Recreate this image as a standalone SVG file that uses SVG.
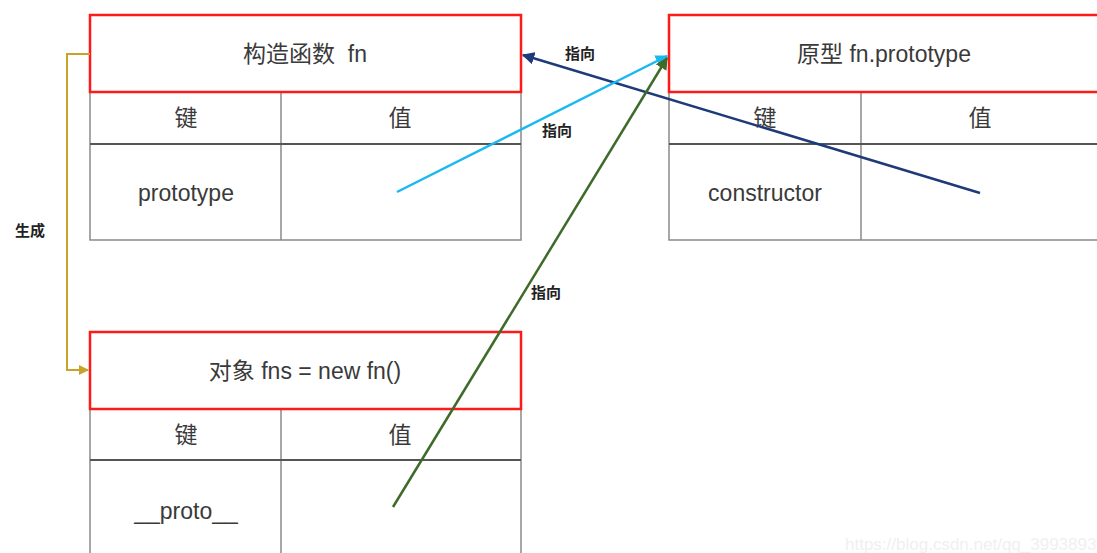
<svg xmlns="http://www.w3.org/2000/svg" width="1097" height="553" viewBox="0 0 1097 553">
<style>
.hdr{fill:#fff;stroke:#ff1a1a;stroke-width:2.5}
.cell{fill:#fff;stroke:#8a8a8a;stroke-width:1.5}
.sep{stroke:#555;stroke-width:2}
.t{font-family:"Liberation Sans","Noto Sans CJK SC",sans-serif;font-size:23px;fill:#3a3a3a;text-anchor:middle;dominant-baseline:central;white-space:pre}
.lbl{font-family:"Liberation Sans","Noto Sans CJK SC",sans-serif;font-size:15px;font-weight:bold;fill:#222;text-anchor:middle;dominant-baseline:central}
.wm{font-family:"Liberation Sans",sans-serif;font-size:17px;fill:#f0f0f0}
</style>
<defs>
<marker id="aNavy" viewBox="0 0 10 10" refX="9" refY="5" markerWidth="5" markerHeight="5" orient="auto"><path d="M0,0 L10,5 L0,10 z" fill="#1f3a78"/></marker>
<marker id="aBlue" viewBox="0 0 10 10" refX="9" refY="5" markerWidth="5" markerHeight="5" orient="auto"><path d="M0,0 L10,5 L0,10 z" fill="#1ab8f0"/></marker>
<marker id="aGreen" viewBox="0 0 10 10" refX="9" refY="5" markerWidth="5" markerHeight="5" orient="auto"><path d="M0,0 L10,5 L0,10 z" fill="#3f6b2a"/></marker>
<marker id="aGold" viewBox="0 0 10 10" refX="9" refY="5" markerWidth="5" markerHeight="5" orient="auto"><path d="M0,0 L10,5 L0,10 z" fill="#c9a227"/></marker>
</defs>
<g id="node-fn">
<rect class="cell" x="90" y="92" width="431" height="148"/>
<line class="cell" x1="281" y1="92" x2="281" y2="240"/>
<line class="sep" x1="90" y1="144" x2="521" y2="144"/>
<rect class="hdr" x="90" y="15" width="431" height="77"/>
<text class="t" x="305" y="54" xml:space="preserve">构造函数  fn</text>
<text class="t" x="186" y="118">键</text>
<text class="t" x="400" y="118">值</text>
<text class="t" x="186" y="193">prototype</text>
</g>
<g id="node-prototype">
<rect class="cell" x="669" y="92" width="440" height="148"/>
<line class="cell" x1="861" y1="92" x2="861" y2="240"/>
<line class="sep" x1="669" y1="144" x2="1097" y2="144"/>
<rect class="hdr" x="669" y="15" width="440" height="77"/>
<text class="t" x="884" y="54">原型 fn.prototype</text>
<text class="t" x="765" y="118">键</text>
<text class="t" x="980" y="118">值</text>
<text class="t" x="765" y="193">constructor</text>
</g>
<g id="node-fns">
<rect class="cell" x="90" y="409" width="431" height="160"/>
<line class="cell" x1="281" y1="409" x2="281" y2="560"/>
<line class="sep" x1="90" y1="460" x2="521" y2="460"/>
<rect class="hdr" x="90" y="332" width="431" height="77"/>
<text class="t" x="305" y="371">对象 fns = new fn()</text>
<text class="t" x="186" y="435">键</text>
<text class="t" x="400" y="435">值</text>
<text class="t" x="186" y="511">__proto__</text>
</g>
<g id="connectors">
<polyline points="90,54 67,54 67,370 88,370" fill="none" stroke="#c9a227" stroke-width="2" marker-end="url(#aGold)"/>
<line x1="980" y1="193" x2="523" y2="55" stroke="#1f3a78" stroke-width="2.5" marker-end="url(#aNavy)"/>
<line x1="397" y1="192" x2="667" y2="56" stroke="#1ab8f0" stroke-width="2.5" marker-end="url(#aBlue)"/>
<line x1="393" y1="507" x2="667" y2="58" stroke="#3f6b2a" stroke-width="2.5" marker-end="url(#aGreen)"/>
<text class="lbl" x="30" y="230">生成</text>
<text class="lbl" x="580" y="53">指向</text>
<text class="lbl" x="557" y="130">指向</text>
<text class="lbl" x="546" y="292">指向</text>
</g>
<text class="wm" x="845" y="550">https://blog.csdn.net/qq_3993893</text>
</svg>
